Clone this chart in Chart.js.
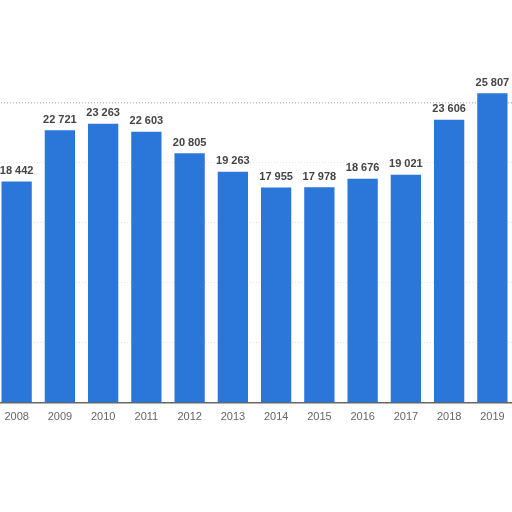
<!DOCTYPE html>
<html>
<head>
<meta charset="utf-8">
<script src="https://cdn.jsdelivr.net/npm/chart.js@4"></script>
<style>
  html, body { margin: 0; padding: 0; background: #fff; overflow: hidden; }
  #wrap { position: absolute; left: -5px; top: 0; width: 519px; height: 512px; }
</style>
</head>
<body>
<div id="wrap"><canvas id="myChart"></canvas></div>
<script>
const years = ['2008', '2009', '2010', '2011', '2012', '2013', '2014', '2015', '2016', '2017', '2018', '2019'];
const values = [18442, 22721, 23263, 22603, 20805, 19263, 17955, 17978, 18676, 19021, 23606, 25807];
const yTicks = [0, 5000, 10000, 15000, 20000, 25000, 30000];

function spaced(n) {
  return String(n).replace(/\B(?=(\d{3})+(?!\d))/g, ' ');
}

// numbers above the bars
const barLabels = {
  id: 'barLabels',
  afterDatasetsDraw(chart) {
    const ctx = chart.ctx;
    const meta = chart.getDatasetMeta(0);
    ctx.save();
    ctx.font = 'bold 11px "Liberation Sans", Arial, sans-serif';
    ctx.fillStyle = '#444';
    ctx.textAlign = 'center';
    ctx.textBaseline = 'bottom';
    meta.data.forEach((bar, i) => {
      ctx.fillText(spaced(values[i]), bar.x, bar.y - 5);
    });
    ctx.restore();
  }
};

new Chart(
  document.getElementById('myChart'),
  {
    type: 'bar',
    plugins: [barLabels],
    options: {
      maintainAspectRatio: false,
      responsive: true,
      animation: false,
      layout: {
        padding: { left: 0, right: 0, top: 43, bottom: 80 }
      },
      scales: {
        x: {
          grid: { display: false, drawTicks: false },
          border: { color: '#666', width: 1.5 },
          ticks: {
            color: '#666',
            padding: 8,
            font: { family: '"Liberation Sans", Arial, sans-serif', size: 11 }
          }
        },
        y: {
          min: 0,
          max: 30000,
          afterBuildTicks: axis => { axis.ticks = yTicks.map(v => ({ value: v })); },
          grid: {
            drawTicks: false,
            color: ctx => {
              if (!ctx.tick) return '#e3e3e3';
              if (ctx.tick.value === 25000) return '#bdbdbd';
              if (ctx.tick.value === 30000) return 'rgba(0,0,0,0)';
              return '#e3e3e3';
            },
            lineWidth: ctx => ctx.tick && ctx.tick.value === 25000 ? 1.5 : 1
          },
          border: { display: false, dash: [1, 2] },
          ticks: { display: false }
        }
      },
      plugins: {
        legend: { display: false },
        tooltip: { enabled: false }
      }
    },
    data: {
      labels: years,
      datasets: [{
        label: 'Value',
        data: values,
        backgroundColor: '#2a76d9',
        categoryPercentage: 1,
        barPercentage: 0.7
      }]
    }
  }
);
</script>
</body>
</html>
